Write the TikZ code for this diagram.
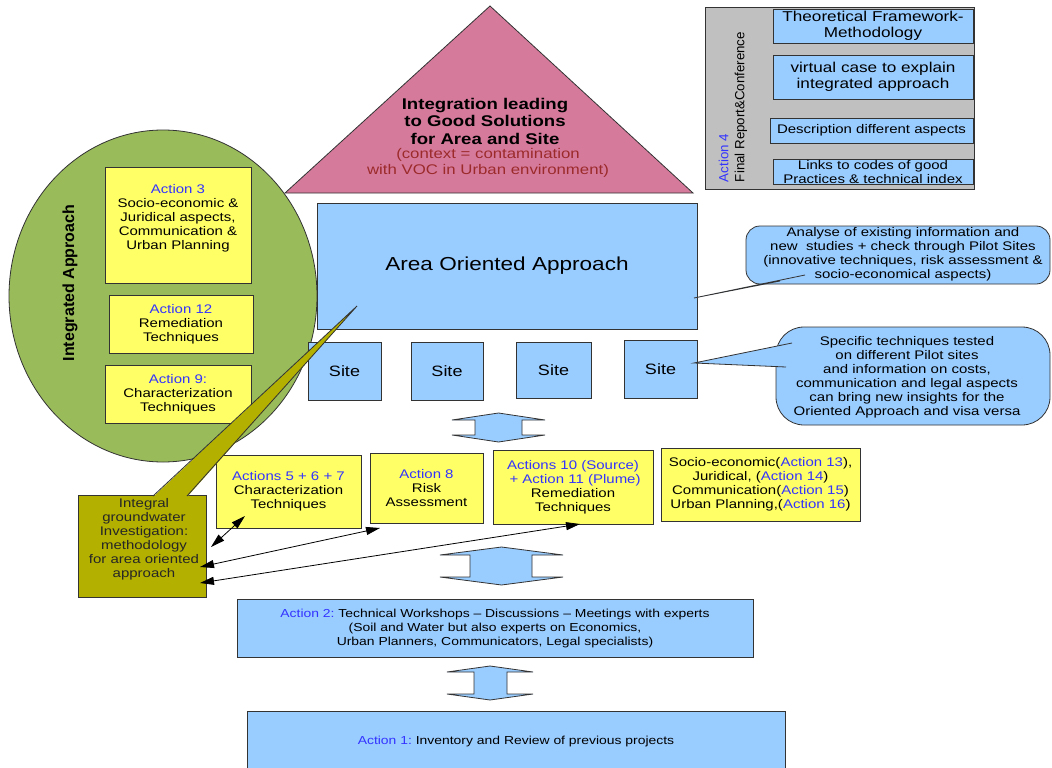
\documentclass[tikz,border=0pt]{standalone}
\usepackage{fontspec}
\setmainfont{Liberation Sans}[FakeStretch=1.2]
\newfontfamily\rotfont{Liberation Sans}
\usetikzlibrary{arrows.meta}
\definecolor{boxblue}{HTML}{99CCFF}
\definecolor{boxyellow}{HTML}{FFFF66}
\definecolor{ellgreen}{HTML}{99BB5A}
\definecolor{tripink}{HTML}{D67A9C}
\definecolor{olivebox}{HTML}{B3B000}
\definecolor{actblue}{HTML}{3333FF}
\definecolor{ctxred}{HTML}{9B2B2B}
\definecolor{panelgray}{HTML}{C0C0C0}
\definecolor{edgecol}{HTML}{333333}
\newcommand{\actlabel}[1]{\textcolor{actblue}{#1}}
\newcommand{\fsmall}{\fontsize{12.5}{14}\selectfont}
\newcommand{\fmid}{\fontsize{14.3}{15.5}\selectfont}
\frenchspacing
\begin{document}
\begin{tikzpicture}[x=1pt,y=-1pt,
  shapebox/.style={draw=edgecol, line width=0.8pt, inner sep=0pt, align=center, font=\fsmall},
  bluebox/.style={shapebox, fill=boxblue},
  ybox/.style={shapebox, fill=boxyellow},
  txt/.style={inner sep=0pt, align=center, font=\fsmall},
  blockarrow/.style={fill=boxblue, draw=edgecol, line width=0.8pt, line join=miter},
  thinarrow/.style={draw=black, line width=0.8pt, {Triangle[length=14pt,width=8pt]}-{Triangle[length=14pt,width=8pt]}},
  wedgeedge/.style={draw=edgecol, line width=0.8pt}
]
\clip (0,0) rectangle (1052,768);
\fill[white] (0,0) rectangle (1052,768);

% ---------- top right panel ----------
\node[draw=edgecol, line width=0.8pt, fill=panelgray, minimum width=269, minimum height=182, inner sep=0pt] (panel) at (839.5,98) {};
\node[bluebox, minimum width=200, minimum height=34, font=\fmid] (tf) at (873,26) {Theoretical Framework-\\Methodology};
\node[bluebox, minimum width=200, minimum height=44, font=\fmid] (vc) at (873,77) {virtual case to explain\\integrated approach};
\node[bluebox, minimum width=203, minimum height=25] (desc) at (871.5,130.5) {Description different aspects};
\node[bluebox, minimum width=200, minimum height=25] (links) at (873,171.5) {};
\node[txt] (linkstxt) at (873,172) {Links to codes of good\\Practices \& technical index};
\node[rotate=90, align=left, inner sep=0pt, font=\rotfont\fontsize{13.3}{16}\selectfont] (a4) at (733,107) {\actlabel{Action 4}\\Final Report\&Conference};

% ---------- triangle ----------
\draw[fill=tripink, draw=edgecol, line width=0.8pt, line join=miter] (490,6) -- (693,193) -- (285,193) -- cycle;
\node[txt, font=\bfseries\fontsize{15.5}{17.5}\selectfont] (goal) at (485,121) {Integration leading\\to Good Solutions\\for Area and Site};
\node[txt, text=ctxred, font=\fontsize{14}{15.5}\selectfont] (context) at (488,163) {(context = contamination\\with VOC in Urban environment)};

% ---------- integrated approach ellipse ----------
\draw[fill=ellgreen, draw=edgecol, line width=0.8pt] (163,296) ellipse [x radius=154pt, y radius=166pt];
\node[rotate=90, inner sep=0pt, font=\rotfont\bfseries\fontsize{16}{18}\selectfont] (ia) at (70,283) {Integrated Approach};
\node[ybox, minimum width=146, minimum height=116] (a3) at (178,225) {};
\node[txt] (a3txt) at (178,218.5) {\actlabel{Action 3}\\Socio-economic \&\\Juridical aspects,\\Communication \&\\Urban Planning};
\node[ybox, minimum width=144, minimum height=58] (a12) at (181,324) {\actlabel{Action 12}\\Remediation\\Techniques};
\node[ybox, minimum width=146, minimum height=58] (a9) at (178,394) {\actlabel{Action 9:}\\Characterization\\Techniques};

% ---------- area and sites ----------
\node[bluebox, minimum width=380, minimum height=126, font=\fontsize{18.8}{22}\selectfont] (area) at (507,266) {Area Oriented Approach};
\node[bluebox, minimum width=73, minimum height=58, font=\fontsize{15}{17}\selectfont] (s1) at (344.5,371) {Site};
\node[bluebox, minimum width=72, minimum height=58, font=\fontsize{15}{17}\selectfont] (s2) at (447,371) {Site};
\node[bluebox, minimum width=75, minimum height=56, font=\fontsize{15}{17}\selectfont] (s3) at (553.5,370) {Site};
\node[bluebox, minimum width=73, minimum height=58, font=\fontsize{15}{17}\selectfont] (s4) at (660.5,369) {Site};

% ---------- callouts ----------
\node[draw=edgecol, line width=0.8pt, fill=boxblue, rounded corners=14pt, minimum width=304, minimum height=58, inner sep=0pt] (c1) at (898,255) {};
\fill[boxblue] (805,275) -- (694,298) -- (780,281) -- cycle;
\draw[wedgeedge] (805,275) -- (694,298) -- (780,281);
\node[txt] (c1txt) at (903,254) {Analyse of existing information and\\new\ \ studies + check through Pilot Sites\\(innovative techniques, risk assessment \&\\socio-economical aspects)};

\node[draw=edgecol, line width=0.8pt, fill=boxblue, rounded corners=28pt, minimum width=274, minimum height=98, inner sep=0pt] (c2) at (913,376) {};
\fill[boxblue] (792,343) -- (694,363) -- (786,367) -- cycle;
\draw[wedgeedge] (792,343) -- (694,363) -- (786,367);
\node[txt] (c2txt) at (907,377) {Specific techniques tested\\on different Pilot sites\\and information on costs,\\communication and legal aspects\\can bring new insights for the\\Oriented Approach and visa versa};

% ---------- block arrows ----------
\draw[blockarrow] (475,420) -- (452,420) -- (498.5,413) -- (545,420) -- (522,420) -- (522,435) -- (545,435) -- (498.5,442) -- (452,435) -- (475,435) -- cycle;
\draw[blockarrow] (470,555) -- (440,555) -- (501.5,547) -- (563,555) -- (532,555) -- (532,577) -- (563,577) -- (501.5,585) -- (440,577) -- (470,577) -- cycle;
\draw[blockarrow] (474,672) -- (447,672) -- (490,666) -- (533,672) -- (507,672) -- (507,694) -- (533,694) -- (490,700) -- (447,694) -- (474,694) -- cycle;

% ---------- yellow row ----------
\node[ybox, minimum width=145, minimum height=73] (a567) at (288.5,491.5) {\actlabel{Actions 5 + 6 + 7}\\Characterization\\Techniques};
\node[ybox, minimum width=113, minimum height=70] (a8) at (426.5,488) {\actlabel{Action 8}\\Risk\\Assessment};
\node[ybox, minimum width=160, minimum height=74] (a10) at (573,487) {\actlabel{Actions 10 (Source)}\\\actlabel{\ + Action 11 (Plume)}\\Remediation\\Techniques};
\node[ybox, minimum width=199, minimum height=73] (a13) at (760.5,484.5) {Socio-economic(\actlabel{Action 13}),\\Juridical, (\actlabel{Action 14})\\Communication(\actlabel{Action 15})\\Urban Planning,(\actlabel{Action 16})};

% ---------- olive box with pointer ----------
\node[draw=edgecol, line width=0.8pt, fill=olivebox, minimum width=128, minimum height=102, inner sep=0pt] (igi) at (142,546) {};
\fill[olivebox] (153,497) -- (357,306) -- (187,497) -- cycle;
\draw[wedgeedge] (153,496) -- (357,306) -- (187,496);
\node[txt, text=black!85] (igitxt) at (144,539) {Integral\\groundwater\\Investigation:\\methodology\\for area oriented\\approach};

% ---------- thin arrows ----------
\coordinate (p1a) at (245,516);
\coordinate (p1b) at (211,547);
\coordinate (p2a) at (200,567);
\coordinate (p2b) at (380,528);
\coordinate (p3a) at (200,583);
\coordinate (p3b) at (580,524);
\draw[thinarrow] (p1b) -- (p1a);
\draw[thinarrow] (p2a) -- (p2b);
\draw[thinarrow] (p3a) -- (p3b);

% ---------- bottom boxes ----------
\node[bluebox, minimum width=516, minimum height=58, font=\fontsize{11.6}{14}\selectfont] (a2) at (495,628) {\actlabel{Action 2:} Technical Workshops -- Discussions -- Meetings with experts\\(Soil and Water but also experts on Economics,\\Urban Planners, Communicators, Legal specialists)};
\node[bluebox, minimum width=538, minimum height=70] (a1) at (516,746) {};
\node[txt, font=\fontsize{11.6}{14}\selectfont] (a1txt) at (516,741) {\actlabel{Action 1:} Inventory and Review of previous projects};
\end{tikzpicture}
\end{document}
